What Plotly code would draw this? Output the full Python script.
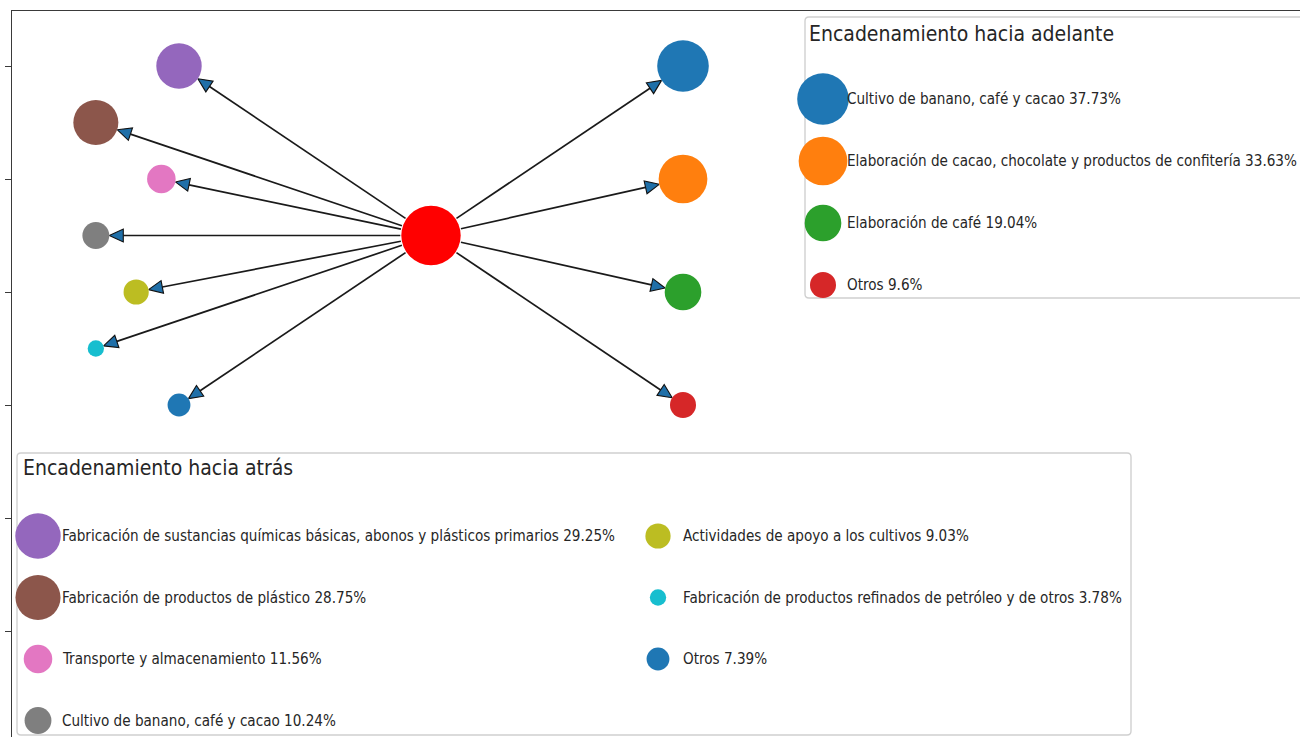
import math
import plotly.graph_objects as go

# ---------------- data ----------------
back_names = [
    "Fabricación de sustancias químicas básicas, abonos y plásticos primarios",
    "Fabricación de productos de plástico",
    "Transporte y almacenamiento",
    "Cultivo de banano, café y cacao",
    "Actividades de apoyo a los cultivos",
    "Fabricación de productos refinados de petróleo y de otros",
    "Otros",
]
back_pct = [29.25, 28.75, 11.56, 10.24, 9.03, 3.78, 7.39]
back_pos_x = [-1.0, -1.33, -1.07, -1.33, -1.17, -1.33, -1.0]
back_pos_y = [3.0, 2.5, 2.0, 1.5, 1.0, 0.5, 0.0]
back_colors = ["#9467bd", "#8c564b", "#e377c2", "#7f7f7f", "#bcbd22", "#17becf", "#1f77b4"]

fwd_names = [
    "Cultivo de banano, café y cacao",
    "Elaboración de cacao, chocolate y productos de confitería",
    "Elaboración de café",
    "Otros",
]
fwd_pct = [37.73, 33.63, 19.04, 9.6]
fwd_pos_x = [1.0, 1.0, 1.0, 1.0]
fwd_pos_y = [3.0, 2.0, 1.0, 0.0]
fwd_colors = ["#1f77b4", "#ff7f0e", "#2ca02c", "#d62728"]

center_pos = (0.0, 1.5)
center_value = 50.0
center_color = "#ff0000"

ytick_vals = [3, 2, 1, 0, -1, -2]

# ---------------- geometry helpers (page pixels; body margin removed) ----------------
OFF = 0
W, H = 1300, 737
PL, PT = 12, 11                  # plot area left/top (page px)
PR, PB = W + OFF, H + OFF        # plot area right/bottom (page px)
ML, MT, MR, MB = PL - OFF, PT - OFF, 0, 0
PW, PH = PR - PL, PB - PT
XR = [(PL - 431) / 252.0, (PR - 431) / 252.0]
YR = [3 - (PB - 66) / 113.0, 3 + (66 - PT) / 113.0]
SIZE_K = 8.4  # diameter px per sqrt(value)
FONT = "DejaVu Sans Condensed, DejaVu Sans, sans-serif"
TXT = "#262626"
ITEM_FS = 15.1
TITLE_FS = 21


def diam(v):
    return SIZE_K * math.sqrt(v)


def to_px(x, y):
    return (PL + (x - XR[0]) / (XR[1] - XR[0]) * PW,
            PT + (YR[1] - y) / (YR[1] - YR[0]) * PH)


def to_data(px, py):
    return (XR[0] + (px - PL) / PW * (XR[1] - XR[0]),
            YR[1] - (py - PT) / PH * (YR[1] - YR[0]))


fig = go.Figure()

# ---------------- edges and arrowheads ----------------
cpx, cpy = to_px(*center_pos)
rc = diam(center_value) / 2 + 1
line_x, line_y, head_x, head_y = [], [], [], []
HL, HW = 14.0, 6.5
targets = list(zip(back_pos_x, back_pos_y, back_pct)) + list(zip(fwd_pos_x, fwd_pos_y, fwd_pct))
for tx, ty, v in targets:
    tpx, tpy = to_px(tx, ty)
    dx, dy = tpx - cpx, tpy - cpy
    L = math.hypot(dx, dy)
    ux, uy = dx / L, dy / L
    nx, ny = -uy, ux
    rt = diam(v) / 2
    sx, sy = cpx + rc * ux, cpy + rc * uy
    tipx, tipy = tpx - rt * ux, tpy - rt * uy
    bx, by = tipx - HL * ux, tipy - HL * uy
    for p in [(sx, sy), (bx, by)]:
        d = to_data(*p)
        line_x.append(d[0]); line_y.append(d[1])
    line_x.append(None); line_y.append(None)
    for p in [(tipx, tipy), (bx + HW * nx, by + HW * ny), (bx - HW * nx, by - HW * ny), (tipx, tipy)]:
        d = to_data(*p)
        head_x.append(d[0]); head_y.append(d[1])
    head_x.append(None); head_y.append(None)

fig.add_trace(go.Scatter(x=line_x, y=line_y, mode="lines",
                         line=dict(color="#1a1a1a", width=1.7),
                         hoverinfo="skip", showlegend=False))
fig.add_trace(go.Scatter(x=head_x, y=head_y, mode="lines", fill="toself",
                         fillcolor="#1f6fa8", line=dict(color="#111111", width=1.1),
                         hoverinfo="skip", showlegend=False))

# ---------------- nodes ----------------
all_x = [center_pos[0]] + back_pos_x + fwd_pos_x
all_y = [center_pos[1]] + back_pos_y + fwd_pos_y
all_v = [center_value] + back_pct + fwd_pct
all_c = [center_color] + back_colors + fwd_colors
all_t = ["Centro"] + [f"{n} {v:g}%" for n, v in zip(back_names, back_pct)] + \
        [f"{n} {v:g}%" for n, v in zip(fwd_names, fwd_pct)]
fig.add_trace(go.Scatter(x=all_x, y=all_y, mode="markers",
                         marker=dict(size=[diam(v) for v in all_v], color=all_c,
                                     line=dict(width=0), opacity=1),
                         text=all_t, hoverinfo="text", showlegend=False))

# ---------------- custom legends (overlay axes in page pixels) ----------------
shapes = []
annotations = []


def rounded_box(x0, y0, x1, y1, r=4):
    return (f"M{x0+r},{y0} L{x1-r},{y0} Q{x1},{y0} {x1},{y0+r} L{x1},{y1-r} Q{x1},{y1} {x1-r},{y1} "
            f"L{x0+r},{y1} Q{x0},{y1} {x0},{y1-r} L{x0},{y0+r} Q{x0},{y0} {x0+r},{y0} Z")


# legend 1: forward
shapes.append(dict(type="path", xref="x2", yref="y2", path=rounded_box(805, 17, 1330, 298),
                   line=dict(color="#d0d0d0", width=1.4), fillcolor="rgba(0,0,0,0)", layer="below"))
annotations.append(dict(xref="x2", yref="y2", x=807, y=34, xanchor="left", yanchor="middle",
                        text="Encadenamiento hacia adelante", showarrow=False,
                        font=dict(family=FONT, size=TITLE_FS, color=TXT)))
lg1_x, lg1_y = [], []
for i, (n, v) in enumerate(zip(fwd_names, fwd_pct)):
    yy = 99 + i * 62
    lg1_x.append(823); lg1_y.append(yy)
    annotations.append(dict(xref="x2", yref="y2", x=845, y=yy, xanchor="left", yanchor="middle",
                            text=f"{n} {v:g}%", showarrow=False,
                            font=dict(family=FONT, size=ITEM_FS, color=TXT)))
fig.add_trace(go.Scatter(x=lg1_x, y=lg1_y, xaxis="x2", yaxis="y2", mode="markers",
                         marker=dict(size=[diam(v) for v in fwd_pct], color=fwd_colors,
                                     line=dict(width=0), opacity=1),
                         hoverinfo="skip", showlegend=False, cliponaxis=False))

# legend 2: backward
shapes.append(dict(type="path", xref="x2", yref="y2", path=rounded_box(17, 453, 1131, 735),
                   line=dict(color="#d0d0d0", width=1.4), fillcolor="rgba(0,0,0,0)", layer="below"))
annotations.append(dict(xref="x2", yref="y2", x=21, y=468, xanchor="left", yanchor="middle",
                        text="Encadenamiento hacia atrás", showarrow=False,
                        font=dict(family=FONT, size=TITLE_FS, color=TXT)))
lg2_x, lg2_y = [], []
for i, (n, v) in enumerate(zip(back_names, back_pct)):
    col, row = divmod(i, 4)
    mx = 38 if col == 0 else 658
    tx = 60 if col == 0 else 681
    yy = 536 + row * 61.5
    lg2_x.append(mx); lg2_y.append(yy)
    annotations.append(dict(xref="x2", yref="y2", x=tx, y=yy, xanchor="left", yanchor="middle",
                            text=f"{n} {v:g}%", showarrow=False,
                            font=dict(family=FONT, size=ITEM_FS, color=TXT)))
fig.add_trace(go.Scatter(x=lg2_x, y=lg2_y, xaxis="x2", yaxis="y2", mode="markers",
                         marker=dict(size=[diam(v) for v in back_pct], color=back_colors,
                                     line=dict(width=0), opacity=1),
                         hoverinfo="skip", showlegend=False, cliponaxis=False))

fig.update_layout(
    width=W, height=H,
    margin=dict(l=ML, r=MR, t=MT, b=MB, pad=0),
    paper_bgcolor="white", plot_bgcolor="white",
    showlegend=False,
    shapes=shapes, annotations=annotations,
    xaxis=dict(range=XR, side="top", showline=True, linecolor="#3a3a3a", linewidth=1.4,
               ticks="", showticklabels=False, showgrid=False, zeroline=False, fixedrange=True),
    yaxis=dict(range=YR, showline=True, linecolor="#3a3a3a", linewidth=1.4,
               ticks="outside", ticklen=6, tickwidth=1.2, tickcolor="#3a3a3a",
               tickvals=ytick_vals, showticklabels=False, showgrid=False, zeroline=False, fixedrange=True),
    xaxis2=dict(range=[PL, PR], overlaying="x", visible=False, fixedrange=True),
    yaxis2=dict(range=[PB, PT], overlaying="y", visible=False, fixedrange=True),
)

fig.write_html("out.html",
               config={"displayModeBar": False},
               post_script="document.body.style.margin='0';document.body.style.overflow='hidden';")
